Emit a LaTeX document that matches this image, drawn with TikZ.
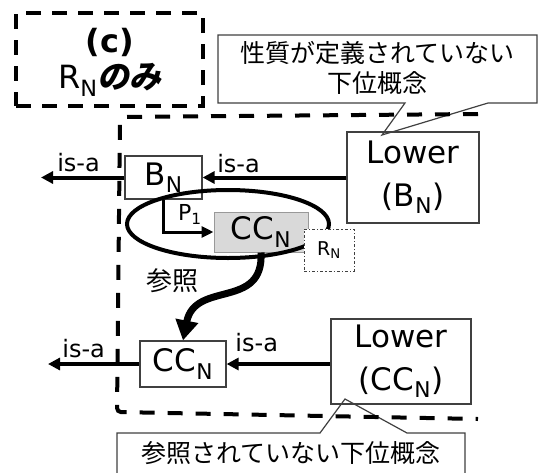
\documentclass[tikz,border=0pt]{standalone}
\usepackage{fontspec}
\setmainfont{DejaVu Sans}
\newfontfamily\jp{Noto Sans CJK JP}
\newfontfamily\jpsl{Noto Sans CJK JP}[FakeSlant=0.2]
\usetikzlibrary{arrows.meta}

\begin{document}
\begin{tikzpicture}[x=1pt,y=-1pt,
  box/.style={draw=black!75,line width=1.2pt,inner sep=0pt,align=center,font=\fontsize{31}{43}\selectfont},
  callout/.style={draw=black!75,line width=1.2pt,fill=white},
  jptext/.style={inner sep=0pt,align=center,font=\jp\fontsize{25}{30}\selectfont},
  isa/.style={line width=4pt,-{Triangle[length=12pt,width=12pt]}},
  lbl/.style={inner sep=0pt,anchor=base,yshift=6pt,font=\fontsize{24}{24}\selectfont}]
\useasboundingbox (0,0) rectangle (539,472);
\node[draw,line width=4pt,dash pattern=on 15pt off 11pt,minimum width=187pt,minimum height=93pt] (title) at (109.5,59.5) {};
\node[inner sep=0pt,align=center,font=\fontsize{32}{36}\selectfont] (titletext) at (110,62) {\textbf{(c)}\\R\textsubscript{N}{\jpsl\bfseries のみ}};
\draw[callout] (218,35) -- (537,35) -- (537,103) -- (488,103) -- (382,135) -- (405,103) -- (218,103) -- cycle;
\node[jptext] (calltop) at (377.5,68) {性質が定義されていない\\下位概念};
\draw[callout] (117,433) -- (320,433) -- (345,399) -- (407,433) -- (465,433) -- (465,495) -- (117,495) -- cycle;
\node[jptext] (callbot) at (291,453) {参照されていない下位概念};
% upper row
\node[box,minimum width=77pt,minimum height=43pt] (bn) at (163.5,177.5) {B\textsubscript{N}};
\node[box,minimum width=132pt,minimum height=91pt] (lowb) at (413,177.5) {Lower\\(B\textsubscript{N})};
\node[box,fill=black!15,draw=black!40,line width=1pt,minimum width=94pt,minimum height=40pt] (ccg) at (261,232) {CC\textsubscript{N}};
\draw[line width=4pt] (228,224) ellipse [x radius=101pt,y radius=34pt];
\node[box,fill=white,dash dot,line width=1pt,minimum width=50pt,minimum height=42pt,font=\fontsize{19}{19}\selectfont] (rn) at (329,250) {R\textsubscript{N}};
\coordinate (topend) at (41,177.5);
\draw[isa] (bn) -- node[lbl,pos=.55] {is-a} (topend);
\draw[isa] (lowb) -- node[lbl,pos=.75,yshift=-1pt] {is-a} (bn);
\draw[line width=3pt,-{Triangle[length=12pt,width=11pt]}] (bn.south) |- node[pos=.5,anchor=base west,inner sep=0pt,xshift=13pt,yshift=12pt,font=\fontsize{22}{22}\selectfont] {P\textsubscript{1}} (ccg);
% lower row
\node[box,minimum width=86pt,minimum height=46pt] (ccl) at (183,364) {CC\textsubscript{N}};
\node[box,minimum width=140pt,minimum height=85pt] (lowcc) at (401,361.5) {Lower\\(CC\textsubscript{N})};
\coordinate (botend) at (48,364);
\draw[isa] (ccl) -- node[lbl,pos=.61,yshift=1pt] {is-a} (botend);
\draw[isa] (lowcc.west |- ccl) -- node[lbl,pos=.71,yshift=7pt] {is-a} (ccl);
\draw[line width=7pt,-{Triangle[length=20pt,width=22pt]}] (ccg.south) .. controls (264,310) and (195,280) .. (ccl.north);
\node[jptext,font=\jp\fontsize{26}{26}\selectfont] (refl) at (172,281) {参照};
% region
\draw[line width=4pt,dash pattern=on 15pt off 13pt,rounded corners=4pt] (478,114) -- (120,117) -- (117,412) -- (478,419);
\end{tikzpicture}
\end{document}
